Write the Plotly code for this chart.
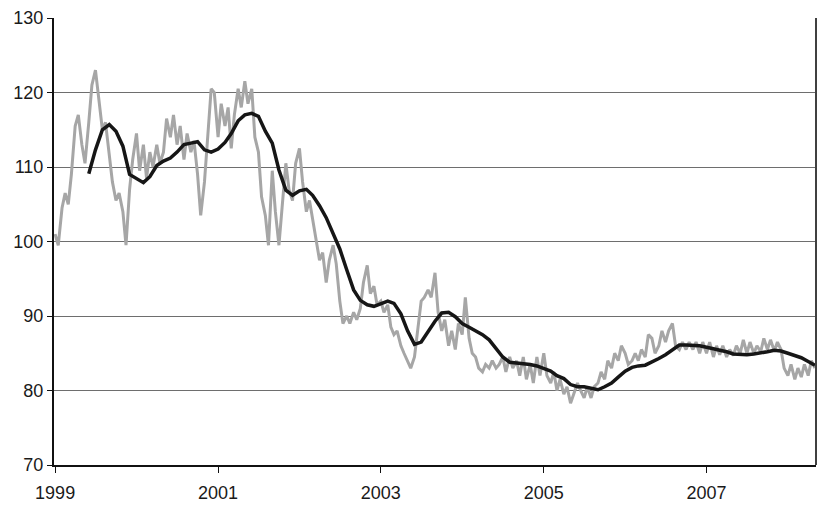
import pandas as pd
import plotly.graph_objects as go

# Daily index sampled twice a month (1st and 15th), Jan 1999 - May 2008
index_values = [
    # 1999
    101, 99.5, 104.5, 106.5, 105, 109, 115.5, 117, 113, 110.5, 116, 121,
    123, 119, 115, 116, 112, 108, 105.5, 106.5, 104, 99.5, 107, 111,
    # 2000
    114.5, 109.5, 113, 108.5, 112, 110, 113, 110.5, 112, 116.5, 114, 117,
    113, 115.5, 111, 114.5, 112, 113.5, 109, 103.5, 108, 114, 120.5, 120,
    # 2001
    114, 118.5, 115.5, 118, 112.5, 117, 120.5, 118, 121.5, 118.5, 120.5, 114,
    112, 106, 103.5, 99.5, 109.5, 104, 99.5, 104.5, 110.5, 107, 105.5, 110.5,
    # 2002
    112.5, 108, 104, 105.5, 103, 100, 97.5, 98.5, 94.5, 97.5, 99.5, 97,
    92, 89, 90, 89, 90.5, 89.5, 91, 94.5, 96.8, 93, 94, 91.5,
    # 2003
    92, 90.5, 91.5, 88.5, 87.5, 88, 86, 85, 84, 83, 84.5, 88,
    92, 92.5, 93.5, 92.5, 95.8, 90.5, 88, 89.5, 86, 88, 85.5, 89,
    # 2004
    87.5, 92.5, 87, 85, 84.5, 83, 82.5, 83.5, 83, 84, 83, 83.5,
    84.5, 82.5, 84.5, 83, 84, 82, 84.5, 81.5, 83.5, 81, 84.5, 82,
    # 2005
    85, 82, 81, 82.5, 80, 81.5, 79.5, 80.5, 78.3, 79.5, 81, 80,
    79, 80.5, 79, 80.5, 81, 82.5, 81.5, 84, 83, 85, 84, 86,
    # 2006
    85, 83.5, 84, 85, 84, 85.5, 84.5, 87.5, 87, 85, 86, 88,
    86.5, 88, 89, 86, 85.5, 86.5, 85.5, 86.5, 85.5, 86.5, 85, 86.5,
    # 2007
    85, 86.5, 84.5, 86, 84.8, 86, 84.5, 85.5, 84.7, 86, 85, 86.8,
    85, 86.5, 85, 86, 85.2, 87, 85.5, 86.8, 85.3, 86.5, 85.5, 83,
    # 2008
    82, 83.5, 81.5, 83, 81.8, 83.5, 82, 84, 83,
]
index_dates = pd.date_range("1999-01-01", periods=len(index_values), freq="SMS")

# Smoothed (moving-average) index, monthly from Jun 1999
trend_values = [
    109.1, 112.3, 115.0, 115.7, 114.8, 112.8, 109.0,
    108.5, 107.9, 108.7, 110.2, 110.8, 111.2, 112.0, 113.0, 113.2, 113.4, 112.3, 112.0,
    112.4, 113.3, 114.5, 116.2, 117.0, 117.2, 116.8, 114.8, 113.2, 109.6, 106.9, 106.2,
    106.8, 107.0, 106.2, 104.8, 103.2, 101.0, 99.0, 96.2, 93.5, 92.1, 91.5, 91.3,
    91.7, 92.0, 91.7, 90.3, 88.0, 86.2, 86.5, 87.9, 89.3, 90.4, 90.5, 89.9,
    89.0, 88.5, 88.0, 87.5, 86.8, 85.7, 84.5, 83.8, 83.7, 83.7, 83.5, 83.3,
    83.0, 82.6, 82.0, 81.6, 80.8, 80.5, 80.5, 80.3, 80.1, 80.5, 81.0, 81.8,
    82.6, 83.1, 83.3, 83.4, 83.8, 84.3, 84.8, 85.5, 86.1, 86.1, 86.1, 86.0,
    85.8, 85.6, 85.4, 85.2, 84.9, 84.8, 84.8, 84.9, 85.0, 85.2, 85.4, 85.3,
    85.0, 84.7, 84.4, 83.9, 83.4,
]
trend_dates = pd.date_range("1999-06-01", periods=len(trend_values), freq="MS")

y_ticks = [70, 80, 90, 100, 110, 120, 130]
x_ticks = ["1999-01-01", "2001-01-01", "2003-01-01", "2005-01-01", "2007-01-01"]
x_labels = ["1999", "2001", "2003", "2005", "2007"]

fig = go.Figure()
fig.add_trace(go.Scatter(
    x=index_dates, y=index_values, mode="lines",
    line=dict(color="#a6a6a6", width=3), hoverinfo="skip",
))
fig.add_trace(go.Scatter(
    x=trend_dates, y=trend_values, mode="lines",
    line=dict(color="#161616", width=3.5), hoverinfo="skip",
))

# right-hand frame of the plot area
fig.add_shape(type="line", xref="paper", yref="y", x0=1, x1=1, y0=70, y1=130,
              line=dict(color="#404040", width=2))

fig.update_layout(
    width=818, height=505,
    margin=dict(l=54, r=2, t=18, b=40),
    paper_bgcolor="white", plot_bgcolor="white",
    showlegend=False,
    font=dict(family="Liberation Sans, Arial, sans-serif", size=18, color="#1a1a1a"),
)
fig.update_xaxes(
    type="date", range=["1998-12-27", "2008-05-06"],
    tickvals=x_ticks, ticktext=x_labels,
    showgrid=False, showline=True, linecolor="#111111", linewidth=2,
    ticks="outside", ticklen=6, tickcolor="#111111", tickwidth=1,
    ticklabelstandoff=4,
    zeroline=False,
)
fig.update_yaxes(
    range=[70, 130], tickvals=y_ticks,
    showgrid=True, gridcolor="#6e6e6e", gridwidth=1,
    showline=True, linecolor="#111111", linewidth=2,
    ticks="outside", ticklen=5, tickcolor="#111111", tickwidth=1,
    zeroline=False,
)

fig.write_html("out.html")
